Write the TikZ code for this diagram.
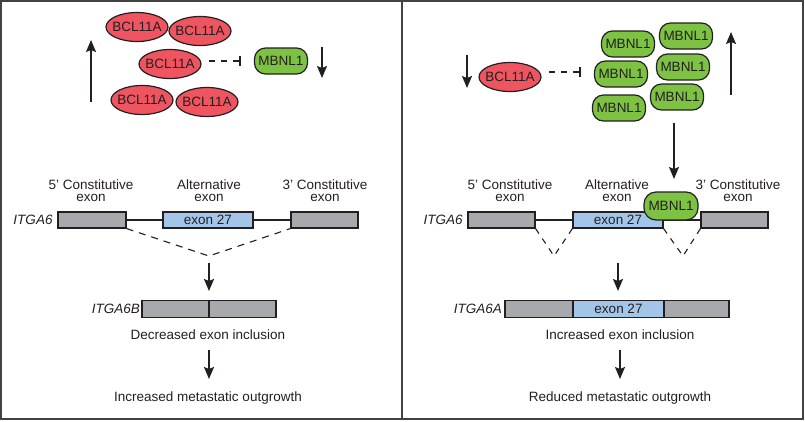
\documentclass[tikz,border=0pt]{standalone}
\usepackage{fontspec}
\setmainfont{Liberation Sans}
\usetikzlibrary{arrows.meta,shapes.geometric}
\definecolor{redp}{HTML}{EE5560}
\definecolor{greenp}{HTML}{7DC242}
\definecolor{bluex}{HTML}{A3C6E8}
\definecolor{grayx}{HTML}{A7A9AC}
\definecolor{ink}{HTML}{231F20}
\begin{document}
\begin{tikzpicture}[x=1pt,y=-1pt,
  every node/.style={text=ink,font=\fontsize{13.5}{12}\selectfont,inner sep=0pt},
  bcl/.style={ellipse,draw=ink,line width=1.2pt,fill=redp,minimum width=62pt,minimum height=29pt},
  mbn/.style={rectangle,rounded corners=11pt,draw=ink,line width=1.2pt,fill=greenp,minimum width=53pt,minimum height=26pt},
  exg/.style={rectangle,draw=ink,line width=1.1pt,fill=grayx,minimum height=16pt},
  exb/.style={rectangle,draw=ink,line width=1.1pt,fill=bluex,minimum height=16pt},
  lbl/.style={align=center},
  arr/.style={draw=ink,line width=1.4pt,-{Stealth[length=12pt,width=10pt,inset=2pt]}},
  inh/.style={draw=ink,line width=1.2pt,dash pattern=on 6pt off 6pt},
  bar/.style={draw=ink,line width=1.2pt},
  splice/.style={draw=ink,line width=1.1pt,dash pattern=on 7pt off 6pt},
  intron/.style={draw=ink,line width=1.1pt},
  frame/.style={draw=ink!85,line width=2pt}]
\useasboundingbox (0,0) rectangle (805,421);
\draw[frame] (1,1) rectangle (803,419);
\draw[frame] (402,1) -- (402,419);

% ---------- left panel ----------
\node[bcl] (e1) at (137,27) {\makebox[0pt]{BCL11A}};
\node[bcl] (e2) at (200,31) {\makebox[0pt]{BCL11A}};
\node[bcl] (e3) at (170,64) {\makebox[0pt]{BCL11A}};
\node[bcl] (e4) at (142,100) {\makebox[0pt]{BCL11A}};
\node[bcl] (e5) at (207,102) {\makebox[0pt]{BCL11A}};
\node[mbn] (m0) at (281,61) {MBNL1};
\coordinate (ua1) at (91,102); \coordinate (ua2) at (91,40);
\draw[arr] (ua1) -- (ua2);
\coordinate (da1) at (322,47); \coordinate (da2) at (322,78);
\draw[arr] (da1) -- (da2);
\coordinate (ib) at (240,61);
\draw[inh] (e3.east) ++(7,-3) -- (ib);
\draw[bar] (240,56) -- (240,66);

\node[lbl] (l5) at (91,191) {5’ Constitutive\\exon};
\node[lbl] (la) at (209,191) {Alternative\\exon};
\node[lbl] (l3) at (325,191) {3’ Constitutive\\exon};
\node[font=\fontsize{13.5}{12}\selectfont\itshape] (g1) at (33,220) {ITGA6};
\node[exg,minimum width=68pt] (b1) at (92,220) {};
\node[exb,minimum width=90pt] (b2) at (208,220) {exon 27};
\node[exg,minimum width=67pt] (b3) at (324.5,220) {};
\draw[intron] (b1.east) -- (b2.west);
\draw[intron] (b2.east) -- (b3.west);
\coordinate (vL) at (209,256);
\draw[splice] (b1.south east) -- (vL) -- (b3.south west);
\coordinate (a1s) at (209,263); \coordinate (a1e) at (209,291);
\draw[arr] (a1s) -- (a1e);
\node[exg,minimum width=67pt,minimum height=17pt] (c1) at (175.5,309) {};
\node[exg,minimum width=67pt,minimum height=17pt] (c2) at (242.5,309) {};
\node[anchor=east,font=\fontsize{13.5}{12}\selectfont\itshape] (g2) at (140,309) {ITGA6B};
\node (t1) at (208,335) {Decreased exon inclusion};
\coordinate (a2s) at (209,350); \coordinate (a2e) at (209,379);
\draw[arr] (a2s) -- (a2e);
\node (t2) at (208,398) {Increased metastatic outgrowth};

% ---------- right panel ----------
\node[bcl] (r1) at (510,77) {\makebox[0pt]{BCL11A}};
\coordinate (rd1) at (467,55); \coordinate (rd2) at (467,88);
\draw[arr] (rd1) -- (rd2);
\node[mbn] (n1) at (628,44) {MBNL1};
\node[mbn] (n2) at (686,36) {MBNL1};
\node[mbn] (n3) at (621,74) {MBNL1};
\node[mbn] (n4) at (683,67) {MBNL1};
\node[mbn] (n5) at (619,108) {MBNL1};
\node[mbn] (n6) at (677,97) {MBNL1};
\coordinate (ru1) at (731,95); \coordinate (ru2) at (731,32);
\draw[arr] (ru1) -- (ru2);
\coordinate (rib) at (580,72);
\draw[inh] (r1.east) ++(7,-5) -- (rib);
\draw[bar] (580,67) -- (580,77);
\coordinate (rm1) at (674,123); \coordinate (rm2) at (674,179);
\draw[arr] (rm1) -- (rm2);

\node[lbl] (rl5) at (510,191) {5’ Constitutive\\exon};
\node[lbl] (rla) at (617,191) {Alternative\\exon};
\node[lbl] (rl3) at (738,191) {3’ Constitutive\\exon};
\node[font=\fontsize{13.5}{12}\selectfont\itshape] (g3) at (443,220) {ITGA6};
\node[exg,minimum width=67pt] (s1) at (501.5,220) {};
\node[exb,minimum width=90pt] (s2) at (618,220) {exon 27};
\node[exg,minimum width=67pt] (s3) at (734.5,220) {};
\draw[intron] (s1.east) -- (s2.west);
\draw[intron] (s2.east) -- (s3.west);
\node[mbn,rounded corners=12pt,minimum width=54pt,minimum height=28pt] (mb) at (671,206) {MBNL1};
\coordinate (v1) at (554,256);
\coordinate (v2) at (683,256);
\draw[splice,dash pattern=on 6pt off 6pt] (s1.south east) -- (v1) -- (s2.south west);
\draw[splice,dash pattern=on 6pt off 6pt] (s2.south east) -- (v2) -- (s3.south west);
\coordinate (b1s) at (618,263); \coordinate (b1e) at (618,291);
\draw[arr] (b1s) -- (b1e);
\node[exg,minimum width=68pt,minimum height=17pt] (d1) at (539,309) {};
\node[exb,minimum width=91pt,minimum height=17pt] (d2) at (618.5,309) {exon 27};
\node[exg,minimum width=65pt,minimum height=17pt] (d3) at (696.5,309) {};
\node[anchor=east,font=\fontsize{13.5}{12}\selectfont\itshape] (g4) at (502,309) {ITGA6A};
\node (t3) at (620,335) {Increased exon inclusion};
\coordinate (b2s) at (620,350); \coordinate (b2e) at (620,379);
\draw[arr] (b2s) -- (b2e);
\node (t4) at (620,398) {Reduced metastatic outgrowth};
\end{tikzpicture}
\end{document}
